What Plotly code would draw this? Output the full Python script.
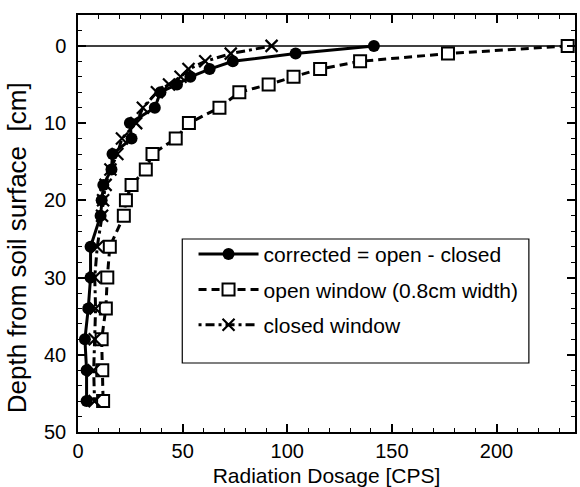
import plotly.graph_objects as go

depth = [0, 1, 2, 3, 4, 5, 6, 8, 10, 12, 14, 16, 18, 20, 22, 26, 30, 34, 38, 42, 46]
corrected = [141.4, 104, 74, 62.9, 53.7, 47.3, 39.4, 36.7, 24.8, 25.6, 16.5, 16, 12.1, 11.3, 10.8, 6.0, 6.0, 4.9, 3.3, 4.1, 4.1]
open_window = [234, 176.8, 134.8, 115.7, 103, 91.1, 77.1, 67.6, 53, 46.7, 35.6, 32.4, 25.6, 22.9, 21.9, 15.2, 14, 13.3, 11.3, 11.6, 12]
closed_window = [92.5, 73, 60.8, 52.8, 49, 43.5, 37.7, 31, 27.8, 21, 18.8, 15.5, 13.2, 12, 11.5, 9.2, 8, 8.4, 8, 7.5, 7.9]

names = ["corrected = open - closed", "open window (0.8cm width)", "closed window"]
x_title = "Radiation Dosage [CPS]"
y_title = "Depth from soil surface  [cm]"

fig = go.Figure()
fig.add_trace(go.Scatter(
    x=corrected, y=depth, name=names[0], mode="lines+markers", legendgroup="a",
    line=dict(color="black", width=3),
    marker=dict(symbol="circle", size=12, color="black"),
))
fig.add_trace(go.Scatter(
    x=open_window, y=depth, name=names[1], mode="lines+markers", legendgroup="b",
    line=dict(color="black", width=3, dash="8px,5px"),
    marker=dict(symbol="square", size=12, color="white", line=dict(color="black", width=2)),
))
fig.add_trace(go.Scatter(
    x=closed_window, y=depth, name=names[2], mode="lines+markers", legendgroup="c",
    line=dict(color="black", width=3, dash="3px,4px,9px,4px"),
    marker=dict(symbol="x-thin", size=12, line=dict(color="black", width=2.2)),
))

# zero reference line
fig.add_shape(type="line", xref="paper", x0=0, x1=1, yref="y", y0=0, y1=0,
              line=dict(color="black", width=1.5), layer="below")
# legend frame
fig.add_shape(type="rect", xref="paper", yref="paper",
              x0=0.2098, x1=0.9072, y0=0.1655, y1=0.4628,
              line=dict(color="black", width=1.2), fillcolor="white", layer="above")

axis_common = dict(
    showline=True, linecolor="black", linewidth=1.5, mirror="ticks",
    ticks="inside", ticklen=8, tickwidth=1.5, tickcolor="black",
    showgrid=False, zeroline=False,
    tickfont=dict(size=20, color="black"),
)

fig.update_xaxes(
    range=[0, 237.5], dtick=50, tick0=0,
    minor=dict(dtick=10, ticks="inside", ticklen=4, tickwidth=1.2, tickcolor="black", showgrid=False),
    title=dict(text=x_title, font=dict(size=21, color="black"), standoff=8),
    ticklabelstandoff=0,
    **axis_common,
)
fig.update_yaxes(
    range=[50, -4], dtick=10, tick0=0,
    minor=dict(dtick=2, ticks="inside", ticklen=4, tickwidth=1.2, tickcolor="black", showgrid=False),
    ticklabelstandoff=6,
    **axis_common,
)

fig.add_annotation(
    text=y_title, textangle=-90, showarrow=False,
    xref="paper", yref="paper", x=(16.5 - 78) / 499, y=(432 - 247.5) / 417,
    xanchor="center", yanchor="middle",
    font=dict(size=26, color="black"),
)

fig.update_layout(
    width=580, height=487,
    margin=dict(l=78, r=3, t=15, b=55),
    paper_bgcolor="white", plot_bgcolor="white",
    font=dict(family="Liberation Sans, Arial, sans-serif", color="black"),
    legend=dict(
        x=(194 - 78) / 499, y=0.475, xanchor="left", yanchor="top",
        bgcolor="rgba(0,0,0,0)", borderwidth=0,
        font=dict(size=21, color="black"),
        tracegroupgap=5, itemwidth=60,
    ),
)

fig.write_html("out.html")
